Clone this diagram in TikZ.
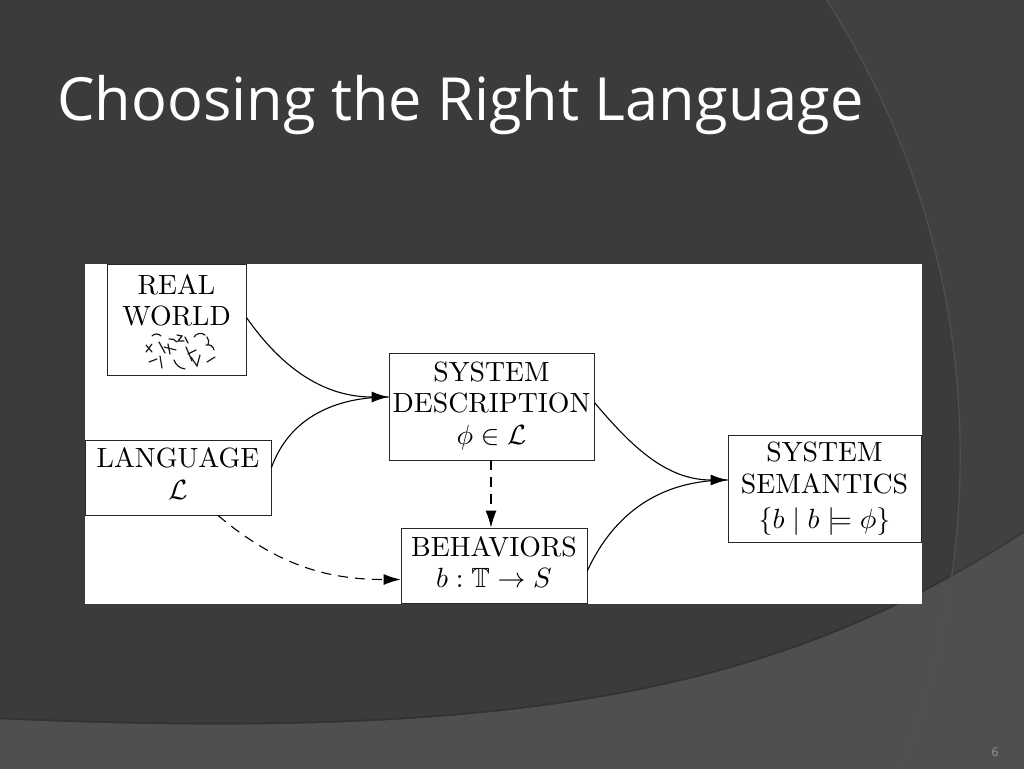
\documentclass[tikz,border=0pt]{standalone}
\usepackage{fontspec}
\usepackage{amssymb}
\usepackage{graphicx}
\usetikzlibrary{arrows.meta}
\newfontfamily\titlefont{Open Sans}
\definecolor{bgdark}{HTML}{3B3B3B}
\definecolor{bgright}{HTML}{414141}
\definecolor{bgband}{HTML}{4F4F4F}
\definecolor{arcline}{HTML}{505050}
\definecolor{pgnum}{HTML}{9A9A9A}
\newcommand{\dlbl}[1]{\scalebox{2.78}{\fontsize{10}{11.4}\selectfont\begin{tabular}{@{}c@{}}#1\end{tabular}}}
\tikzset{
  dbox/.style={draw=black!85, line width=0.9pt, fill=white, inner sep=0pt, align=center},
  conn/.style={line width=1.1pt, -{Latex[length=17pt,width=11pt]}},
  dconn/.style={conn, dash pattern=on 10pt off 7pt},
  scrib/.style={line width=1.2pt, black!90, line cap=round}
}
\begin{document}
\begin{tikzpicture}[x=1pt,y=1pt]
\useasboundingbox (0,0) rectangle (1024,-768);
% background
\fill[bgdark] (-6,6) rectangle (1030,-774);
\begin{scope}
\clip (-6,6) rectangle (1030,-774);
\fill[bgright, even odd rule] (116.4,-455.9) circle (843.8) (-6,6) rectangle (1030,-774);
\draw[line width=4pt, black, opacity=0.12] (-6,-719) .. controls (560,-745) and (800,-680) .. (1030,-529);
\fill[bgband] (-6,-719) .. controls (560,-745) and (800,-680) .. (1030,-529) -- (1030,-774) -- (-6,-774) -- cycle;
\draw[arcline, line width=1.2pt] (116.4,-455.9) circle (843.8);
\end{scope}
% title
\node[anchor=base west, inner sep=0pt, text=white, font=\titlefont\fontsize{59.5}{59.5}\selectfont] (title) at (57,-120) {Choosing the Right Language};
\node[text=pgnum, inner sep=0pt, font=\titlefont\fontsize{12}{12}\selectfont] (pg) at (995,-752) {6};
% white picture area
\fill[white] (85,-264) rectangle (922,-604);
% boxes
\node[dbox, minimum width=139pt, minimum height=111pt] (rw) at (176.5,-319.5) {\dlbl{REAL\\WORLD\\\mbox{}}};
\node[dbox, minimum width=205pt, minimum height=107pt] (sd) at (491.5,-406.5) {\dlbl{SYSTEM\\DESCRIPTION\\$\phi\in\mathcal{L}$}};
\node[dbox, minimum width=186pt, minimum height=75pt] (lang) at (178,-477.5) {\dlbl{LANGUAGE\\$\mathcal{L}$}};
\node[dbox, minimum width=186pt, minimum height=75pt] (beh) at (494,-565.5) {\dlbl{BEHAVIORS\\$b:\mathbb{T}\to S$}};
\node[dbox, minimum width=193pt, minimum height=107pt] (ss) at (824.5,-488.5) {\dlbl{SYSTEM\\SEMANTICS\\[1.2pt]$\{b\mid b\models\phi\}$}};
% scribble
\begin{scope}[scrib]
\draw (152,-336) to[bend left=50] (161,-336);
\draw (146,-345) -- (152,-352); \draw (146,-352) -- (152,-344);
\draw (159,-342) -- (165,-353);
\draw (164,-347) -- (176,-350); \draw (168,-344) -- (170,-354);
\draw (177,-335) -- (182,-336) -- (178,-341) -- (184,-341);
\draw (185,-337) -- (188,-343);
\draw (194,-337) to[bend left=50] (205,-335);
\draw (207,-337) to[bend left=30] (208,-345);
\draw (149,-362) -- (157,-359);
\draw (160,-356) -- (162,-368);
\draw (174,-360) to[bend right=30] (185,-369);
\draw (186,-347) -- (192,-361); \draw (188,-354) -- (196,-350);
\draw (191,-357) -- (197,-366) -- (200,-355);
\draw (206,-345) to[bend left=50] (214,-350);
\draw (207,-362) -- (215,-357);
\draw (169,-339) to[bend left=30] (177,-342);
\end{scope}
% connectors
\coordinate (sdin) at ([yshift=9.5pt]sd.west);
\coordinate (ssin) at ([yshift=8.5pt]ss.west);
\draw[conn] ([yshift=2pt]rw.east) to[out=-55, in=180] (sdin);
\draw[line width=1.1pt] ([yshift=10pt]lang.east) to[out=70, in=180] (sdin);
\draw[dconn] ([xshift=-0.5pt]sd.south) -- ([xshift=-0.5pt]sd.south |- beh.north);
\draw[dconn] ([xshift=40pt]lang.south) to[out=-40, in=180] ([yshift=-14pt]beh.west);
\draw[conn] ([yshift=4pt]sd.east) to[out=-50, in=180] (ssin);
\draw[line width=1.1pt] ([yshift=-5pt]beh.east) to[out=65, in=180] (ssin);
\end{tikzpicture}
\end{document}
